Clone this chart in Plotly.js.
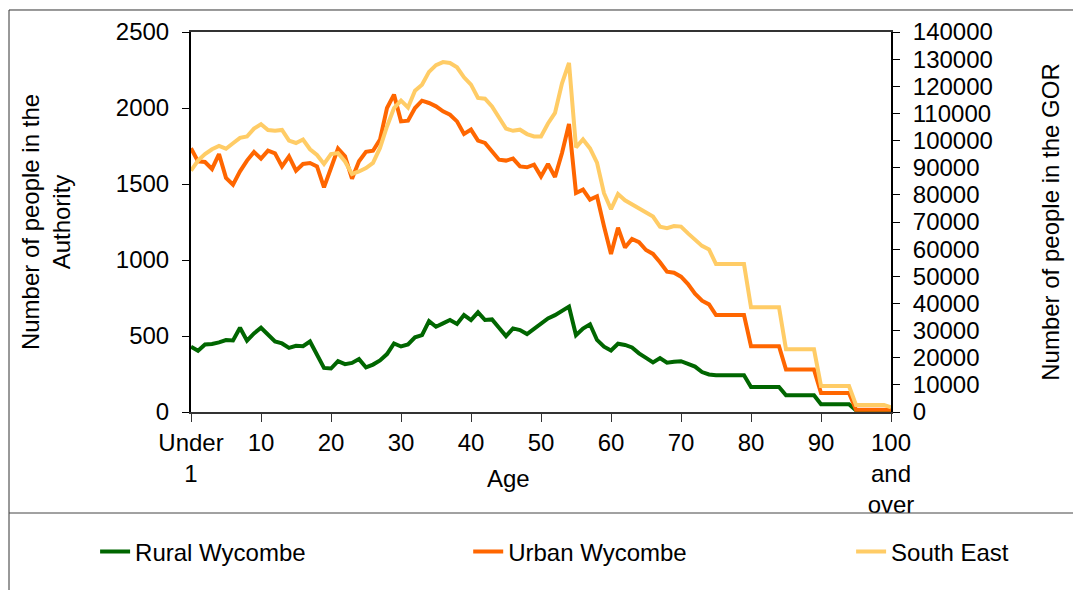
<!DOCTYPE html>
<html>
<head>
<meta charset="utf-8">
<script src="https://cdn.plot.ly/plotly-3.0.1.min.js"></script>
<style>html,body{margin:0;padding:0;background:#fff;}#chart{width:1073px;height:590px;}</style>
</head>
<body>
<div id="chart"></div>
<script>
const ages = [0,1,2,3,4,5,6,7,8,9,10,11,12,13,14,15,16,17,18,19,20,21,22,23,24,25,26,27,28,29,30,31,32,33,34,35,36,37,38,39,40,41,42,43,44,45,46,47,48,49,50,51,52,53,54,55,56,57,58,59,60,61,62,63,64,65,66,67,68,69,70,71,72,73,74,75,76,77,78,79,80,81,82,83,84,85,86,87,88,89,90,91,92,93,94,95,96,97,98,99,100];

const tickAges = [0,10,20,30,40,50,60,70,80,90,100];
const tickLabels = ['Under<br>1','10','20','30','40','50','60','70','80','90','100<br>and<br>over'];

const seriesNames = ['Rural Wycombe','Urban Wycombe','South East'];

const ruralWycombe = [429,403,444,447,458,473,471,554,469,517,554,513,464,451,422,436,433,464,374,290,286,334,315,323,348,293,312,339,381,451,431,444,491,506,598,561,583,605,579,638,605,656,605,609,554,499,550,539,513,546,577,616,637,663,693,505,549,577,474,430,405,449,441,425,386,356,326,355,324,330,334,317,299,263,247,242,242,242,242,242,165,165,165,165,165,110,110,110,110,110,51,51,51,51,51,11,11,11,11,11,7];

const urbanWycombe = [1735,1649,1645,1599,1697,1540,1496,1583,1654,1711,1667,1719,1702,1616,1682,1588,1632,1638,1616,1478,1605,1733,1682,1535,1649,1712,1719,1792,2000,2088,1912,1917,2000,2048,2033,2011,1978,1956,1912,1829,1858,1785,1770,1715,1660,1654,1667,1616,1610,1627,1550,1632,1546,1704,1895,1441,1463,1397,1419,1222,1040,1212,1082,1139,1117,1066,1040,985,923,916,890,842,778,732,708,638,638,638,638,638,433,433,433,433,433,279,279,279,279,279,125,125,125,125,125,15,15,15,15,15,15];

const southEast = [88900,92600,95000,96800,98000,97000,99000,101000,101500,104400,106000,103900,103600,103900,100000,99100,100400,96800,94700,91400,95000,95400,92300,87700,88600,89900,91800,97300,105200,112000,114700,112200,118400,120600,125300,127800,128900,128600,127000,123300,120600,115700,115400,112600,108500,104400,103600,104000,102400,101500,101500,106300,110200,121100,128600,97500,100400,97100,91900,80600,74700,80300,78000,76600,75000,73400,72000,68300,67700,68500,68300,65800,63400,61200,59900,54500,54500,54500,54500,54500,38600,38600,38600,38600,38600,23100,23100,23100,23100,23100,9600,9600,9600,9600,9600,2600,2600,2600,2600,2600,1700];

const FONT = 'Liberation Sans, Arial, sans-serif';
const FS = 24;

const traces = [
  {x: ages, y: ruralWycombe, name: seriesNames[0], type: 'scatter', mode: 'lines',
   line: {color: '#006600', width: 4}, legend: 'legend', yaxis: 'y'},
  {x: ages, y: urbanWycombe, name: seriesNames[1], type: 'scatter', mode: 'lines',
   line: {color: '#FF6600', width: 4}, legend: 'legend2', yaxis: 'y'},
  {x: ages, y: southEast, name: seriesNames[2], type: 'scatter', mode: 'lines',
   line: {color: '#FFCC66', width: 4}, legend: 'legend3', yaxis: 'y2'}
];

const legBase = {orientation: 'h', yanchor: 'middle', xanchor: 'left', y: -0.368,
  font: {family: FONT, size: FS, color: '#000'}, bgcolor: 'rgba(0,0,0,0)', borderwidth: 0};

const layout = {
  width: 1073, height: 590,
  margin: {l: 191, r: 182, t: 32, b: 178, pad: 0},
  paper_bgcolor: '#ffffff', plot_bgcolor: '#ffffff',
  font: {family: FONT, size: FS, color: '#000'},
  showlegend: true,
  xaxis: {
    range: [0, 100], tickmode: 'array', tickvals: tickAges, ticktext: tickLabels,
    tickangle: 0, showgrid: false, zeroline: false, showline: true, mirror: true,
    linecolor: '#333', linewidth: 2, ticks: 'outside', ticklen: 8, tickcolor: '#333',
    tickfont: {family: FONT, size: FS, color: '#000'}, automargin: false
  },
  yaxis: {
    range: [0, 2500], dtick: 500, tickformat: 'd', showgrid: false, zeroline: false,
    showline: true, linecolor: '#000', linewidth: 2, ticks: 'outside', ticklen: 7, tickcolor: '#000',
    ticklabelstandoff: 8,
    tickfont: {family: FONT, size: FS, color: '#000'}, automargin: false,
    title: {text: 'Number of people in the<br>Authority', font: {family: FONT, size: FS, color: '#000'}, standoff: 38}
  },
  yaxis2: {
    overlaying: 'y', side: 'right', range: [0, 140000], dtick: 10000, tickformat: 'd',
    showgrid: false, zeroline: false, showline: true, linecolor: '#000', linewidth: 2,
    ticks: 'outside', ticklen: 7, tickcolor: '#000', ticklabelstandoff: 8,
    tickfont: {family: FONT, size: FS, color: '#000'}, automargin: false,
    title: {text: 'Number of people in the GOR', font: {family: FONT, size: FS, color: '#000'}, standoff: 50}
  },
  legend: Object.assign({}, legBase, {x: -0.137}),
  legend2: Object.assign({}, legBase, {x: 0.396}),
  legend3: Object.assign({}, legBase, {x: 0.943}),
  annotations: [
    {text: 'Age', xref: 'paper', yref: 'paper', x: 0.453, y: -0.174, xanchor: 'center', yanchor: 'middle',
     showarrow: false, font: {family: FONT, size: FS, color: '#000'}}
  ],
  shapes: [
    {type: 'line', xref: 'paper', yref: 'paper', x0: -0.26, x1: 1.3, y0: 1.0579, y1: 1.0579, line: {color: '#333', width: 1}},
    {type: 'line', xref: 'paper', yref: 'paper', x0: -0.26, x1: -0.26, y0: 1.0579, y1: -0.6, line: {color: '#333', width: 1}},
    {type: 'line', xref: 'paper', yref: 'paper', x0: -0.26, x1: 1.3, y0: -0.2658, y1: -0.2658, line: {color: '#444', width: 1}}
  ]
};

Plotly.newPlot('chart', traces, layout, {displayModeBar: false, responsive: false, staticPlot: true});
</script>
</body>
</html>
